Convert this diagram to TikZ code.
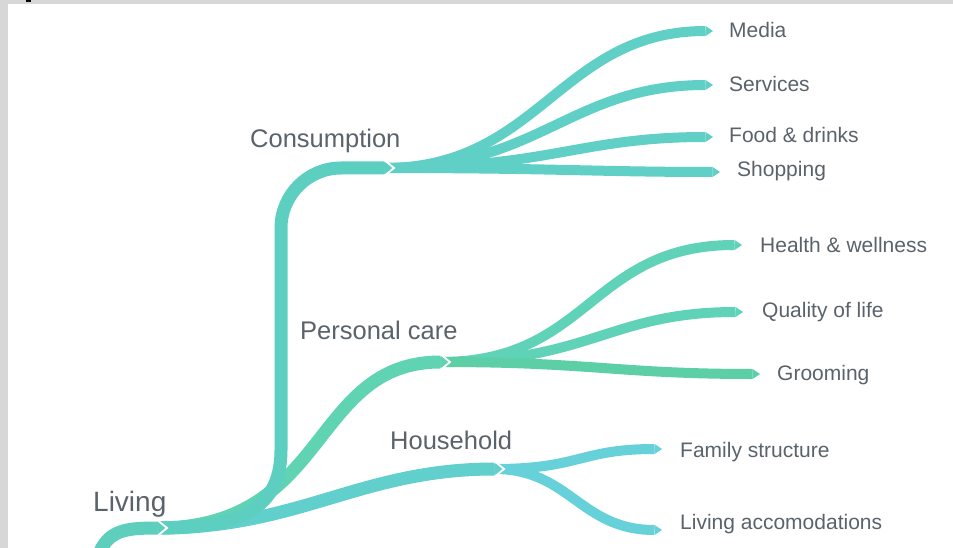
\documentclass[tikz,border=0pt]{standalone}
\usepackage{fontspec}
\setmainfont{Liberation Sans}
\definecolor{txt}{HTML}{5A636B}
\definecolor{bord}{HTML}{D7D7D7}
\definecolor{cRoot}{HTML}{5ECFBC}
\definecolor{cCons}{HTML}{5DCFC0}
\definecolor{cConsL}{HTML}{60D0C6}
\definecolor{cPers}{HTML}{5FD3B2}
\definecolor{cPersL}{HTML}{60D2B8}
\definecolor{cGroom}{HTML}{5CCFA6}
\definecolor{cHous}{HTML}{61D0CC}
\definecolor{cHousL}{HTML}{67D1D9}
\newcommand\brtip[3]{\fill[#1] ([xshift=-7.5pt,yshift=#3]#2) -- (#2) -- ([xshift=-7.5pt,yshift=-#3]#2) -- cycle;}
\newcommand\notch[1]{\draw[white,line width=1.8pt,line join=miter] ([xshift=-8.3pt,yshift=8.5pt]#1) -- ([xshift=2pt]#1) -- ([xshift=-8.3pt,yshift=-8.5pt]#1);}
\tikzset{
  mainbr/.style={line width=13pt},
  leafbr/.style={line width=10pt},
  lbl/.style={anchor=base west, inner sep=0pt, text=txt},
  lblbig/.style={lbl, font=\fontsize{28}{32}\selectfont},
  lblmid/.style={lbl, font=\fontsize{25.5}{30}\selectfont},
  lblsmall/.style={lbl, font=\fontsize{21}{25}\selectfont}
}
\begin{document}
\begin{tikzpicture}[x=1pt,y=-1pt]
\useasboundingbox (0,0) rectangle (953,548);
\fill[bord] (0,0) rectangle (953,548);
\fill[white] (8,4) rectangle (953,548);
\fill[black] (26,0) rectangle (31,2);

% junctions and tips
\coordinate (J0) at (165,528);
\coordinate (J1) at (392,168);
\coordinate (J2) at (448,362);
\coordinate (J3) at (502,469);
\coordinate (R0) at (98,556);
\coordinate (tMedia) at (713,31);
\coordinate (tServ) at (713,85);
\coordinate (tFood) at (713,137);
\coordinate (tShop) at (720,172);
\coordinate (tHealth) at (742,245);
\coordinate (tQual) at (743,312);
\coordinate (tGroom) at (760,374);
\coordinate (tFam) at (662,449);
\coordinate (tAcc) at (662,530);

% leaves of Consumption
\draw[leafbr,cConsL] ([xshift=-7.5pt]J1) .. controls (540,168) and (560,31) .. ([xshift=-7.5pt]tMedia);
\draw[leafbr,cConsL] ([xshift=-7.5pt]J1) .. controls (540,168) and (570,85) .. ([xshift=-7.5pt]tServ);
\draw[leafbr,cConsL] ([xshift=-7.5pt]J1) .. controls (550,168) and (580,137) .. ([xshift=-7.5pt]tFood);
\draw[leafbr,cConsL] ([xshift=-7.5pt]J1) .. controls (550,168) and (600,172) .. ([xshift=-7.5pt]tShop);
\brtip{cConsL}{tMedia}{5pt}
\brtip{cConsL}{tServ}{5pt}
\brtip{cConsL}{tFood}{5pt}
\brtip{cConsL}{tShop}{5pt}

% leaves of Personal care
\draw[leafbr,cPersL] ([xshift=-7.5pt]J2) .. controls (590,362) and (590,245) .. ([xshift=-7.5pt]tHealth);
\draw[leafbr,cPersL] ([xshift=-7.5pt]J2) .. controls (590,362) and (610,312) .. ([xshift=-7.5pt]tQual);
\draw[leafbr,cGroom] ([xshift=-7.5pt]J2) .. controls (590,362) and (620,374) .. ([xshift=-7.5pt]tGroom);
\brtip{cPersL}{tHealth}{5pt}
\brtip{cPersL}{tQual}{5pt}
\brtip{cGroom}{tGroom}{5pt}

% leaves of Household
\draw[leafbr,cHousL] ([xshift=-7.5pt]J3) .. controls (580,469) and (580,449) .. ([xshift=-7.5pt]tFam);
\draw[leafbr,cHousL] ([xshift=-7.5pt]J3) .. controls (570,469) and (580,530) .. ([xshift=-7.5pt]tAcc);
\brtip{cHousL}{tFam}{5pt}
\brtip{cHousL}{tAcc}{5pt}

% main branches
\draw[mainbr,cHous] ([xshift=-7.5pt]J0) .. controls (300,528) and (360,469) .. ([xshift=-7.5pt]J3);
\brtip{cHous}{J3}{6.5pt}
\draw[mainbr,cPers] ([xshift=-7.5pt]J0) .. controls (330,528) and (310,362) .. ([xshift=-7.5pt]J2);
\brtip{cPers}{J2}{6.5pt}
\draw[mainbr,cCons] ([xshift=-7.5pt]J0) .. controls (230,528) and (281,515) .. (281,450)
  -- (281,228) .. controls (281,195) and (308,168) .. (341,168) -- ([xshift=-7.5pt]J1);
\brtip{cCons}{J1}{6.5pt}

% root
\draw[mainbr,cRoot] (R0) .. controls (108,530) and (125,528) .. ([xshift=-7.5pt]J0);
\brtip{cRoot}{J0}{6.5pt}

% notches
\notch{J0}
\notch{J1}
\notch{J2}
\notch{J3}

% labels
\node[lblbig] (living) at (93,511) {Living};
\node[lblmid] (consumption) at (250,148) {Consumption};
\node[lblmid] (personal) at (300,339) {Personal care};
\node[lblmid] (household) at (390,449) {Household};
\node[lblsmall] (media) at (729,38) {Media};
\node[lblsmall] (services) at (729,92) {Services};
\node[lblsmall] (food) at (729,143) {Food \& drinks};
\node[lblsmall] (shopping) at (737,177) {Shopping};
\node[lblsmall] (health) at (760,252) {Health \& wellness};
\node[lblsmall] (quality) at (762,317) {Quality of life};
\node[lblsmall] (grooming) at (777,380) {Grooming};
\node[lblsmall] (family) at (680,457) {Family structure};
\node[lblsmall] (accom) at (680,529) {Living accomodations};
\end{tikzpicture}
\end{document}
